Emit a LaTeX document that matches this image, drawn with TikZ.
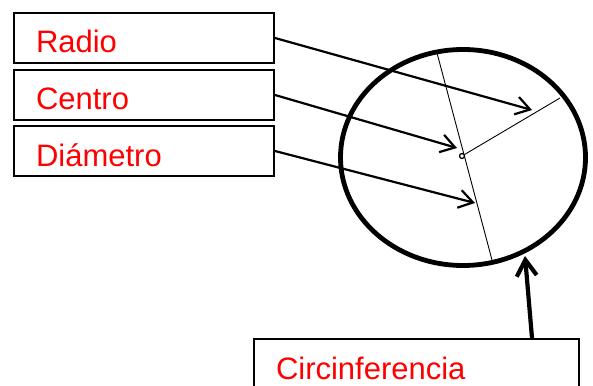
\documentclass[tikz,border=0pt]{standalone}
\usepackage{fontspec}
\setmainfont{Liberation Sans}
\usetikzlibrary{shapes.geometric, arrows.meta, positioning}

\begin{document}
\begin{tikzpicture}[x=1pt, y=-1pt]
        \tikzstyle{box} = [rectangle, draw=black, line width=2pt, fill=white, text=red, font=\fontsize{31pt}{36pt}\selectfont, inner xsep=22pt, inner ysep=0pt, text height=40pt, text depth=10pt, align=left]
        \tikzstyle{arrow} = [line width=2.2pt, -{Straight Barb[length=14pt, width=18pt]}]
        \tikzstyle{bigarrow} = [line width=4.2pt, -{Straight Barb[length=16pt, width=20pt]}]
        \tikzstyle{thinline} = [line width=0.9pt]

        \useasboundingbox (0,0) rectangle (593,385);

        % Nodes
        \node (radio) [box, text width=216pt, anchor=north west] at (13,12) {Radio};
        \node (centro) [box, text width=216pt, below=5pt of radio] {Centro};
        \node (diametro) [box, text width=216pt, below=4pt of centro] {Diámetro};
        \node (circinf) [box, text width=281pt, anchor=north west] at (253,338) {Circinferencia};

        % Circle
        \node (circ) [ellipse, draw, line width=4.8pt, inner sep=0pt, minimum width=245pt, minimum height=216pt] at (463,157.5) {};
        \coordinate (dtop) at (437,53);
        \coordinate (dbot) at (492,260);
        \coordinate (redge) at (560,98);
        \draw [thinline] (dtop) -- (dbot);
        \node (mid) [circle, draw, line width=1.3pt, fill=white, inner sep=0pt, minimum size=5pt] at (462,156) {};
        \draw [thinline] (mid) -- (redge);

        % Arrows
        \coordinate (rtip) at (532,110);
        \coordinate (ctip) at (457,148);
        \coordinate (dtip) at (475,203);
        \coordinate (cfoot) at (532,338);
        \coordinate (circtip) at (525,256);
        \draw [arrow] (radio.east) -- (rtip);
        \draw [arrow] (centro.east) -- (ctip);
        \draw [arrow] (diametro.east) -- (dtip);
        \draw [bigarrow] (cfoot) -- (circtip);

\end{tikzpicture}
\end{document}
